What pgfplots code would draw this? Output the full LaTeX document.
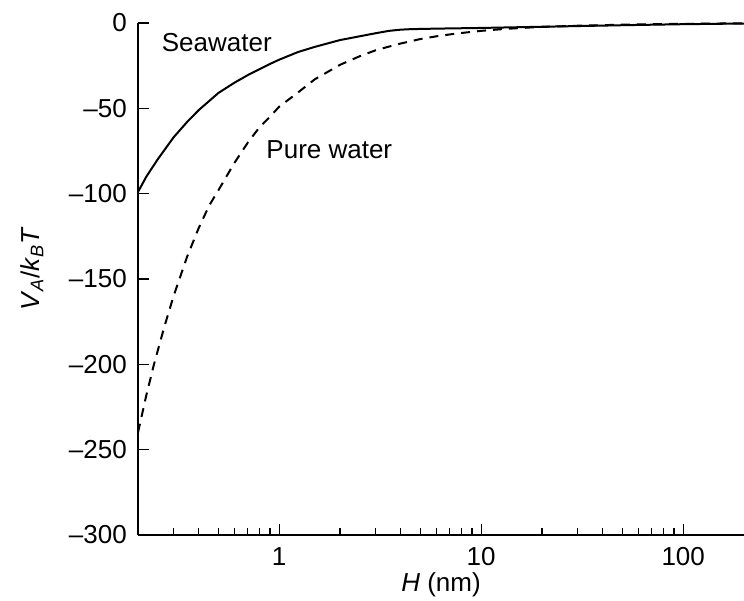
\documentclass[border=0pt]{standalone}
\usepackage{fontspec}
\setmainfont{Liberation Sans}
\usepackage{pgfplots}
\pgfplotsset{compat=1.18}

\newcommand\lbl{\fontsize{26bp}{31bp}\selectfont}

\begin{document}
\begin{tikzpicture}
% page = 744 x 601, axis box 606 x 512
\useasboundingbox (-138bp,-66bp) rectangle (606bp,535bp);
\begin{semilogxaxis}[
    at={(0,0)}, anchor=south west,
    scale only axis,
    width=606bp, height=512bp,
    xmin=0.2, xmax=200,
    ymin=-300, ymax=0,
    axis x line=bottom, axis y line=left,
    axis line style={-, line width=1.3bp},
    tick align=inside,
    major tick length=11bp, minor tick length=7bp,
    every tick/.style={black, line width=1.1bp},
    xtick={1,10,100},
    xticklabels={1,10,100},
    minor xtick={0.3,0.4,0.5,0.6,0.7,0.8,0.9,2,3,4,5,6,7,8,9,20,30,40,50,60,70,80,90},
    ytick={-300,-250,-200,-150,-100,-50,0},
    yticklabels={\textendash300,\textendash250,\textendash200,\textendash150,\textendash100,\textendash50,0},
    xticklabel style={font=\lbl, anchor=north, inner sep=0pt, yshift=-12bp},
    yticklabel style={font=\lbl, anchor=east, inner sep=0pt, xshift=-11bp},
    xlabel={\textit{H} (nm)},
    ylabel={\textit{V}\textsubscript{\textit{A}}/\textit{k}\textsubscript{\textit{B}}\textit{T}},
    xlabel style={font=\lbl, inner sep=0pt, at={(axis description cs:0.5,-0.097)}, anchor=center},
    ylabel style={font=\lbl, at={(axis description cs:-0.175,0.52)}, anchor=center},
]
% seawater
\addplot[black, line width=2bp] coordinates {
    (0.2,-99) (0.22,-90) (0.25,-80) (0.3,-67) (0.35,-58) (0.4,-51)
    (0.5,-41) (0.6,-35) (0.7,-30.5) (0.8,-27) (0.9,-24) (1.0,-21.5)
    (1.24,-17) (1.5,-14) (2.0,-10) (2.5,-7.8) (3.0,-6.0) (3.5,-4.6)
    (4.0,-3.9) (4.5,-3.6) (6,-3.3) (10,-2.9) (20,-2.2) (50,-1.3)
    (100,-0.7) (200,-0.3)
};
% pure water
\addplot[black, line width=2bp, dash pattern=on 9bp off 7bp] coordinates {
    (0.2,-240) (0.22,-218) (0.24,-200) (0.27,-178) (0.3,-160) (0.35,-137)
    (0.4,-120) (0.45,-107) (0.5,-98) (0.6,-82) (0.7,-70) (0.8,-61)
    (0.9,-55) (1.0,-49) (1.2,-42) (1.5,-33) (2.0,-24.5) (2.5,-19.5)
    (3.0,-16) (3.5,-13.8) (4.0,-12) (5.0,-9.4) (6.0,-7.8) (7.5,-6.2)
    (10,-4.6) (13,-3.5) (17,-2.7) (20,-2.3) (30,-1.6) (50,-1.0)
    (70,-0.7) (100,-0.5) (150,-0.3) (200,-0.2)
};
\node[anchor=west, inner sep=0pt, font=\lbl] at (axis cs:0.262,-11.7) {Seawater};
\node[anchor=west, inner sep=0pt, font=\lbl] at (axis cs:0.863,-74.4) {Pure water};
\end{semilogxaxis}
\end{tikzpicture}
\end{document}
